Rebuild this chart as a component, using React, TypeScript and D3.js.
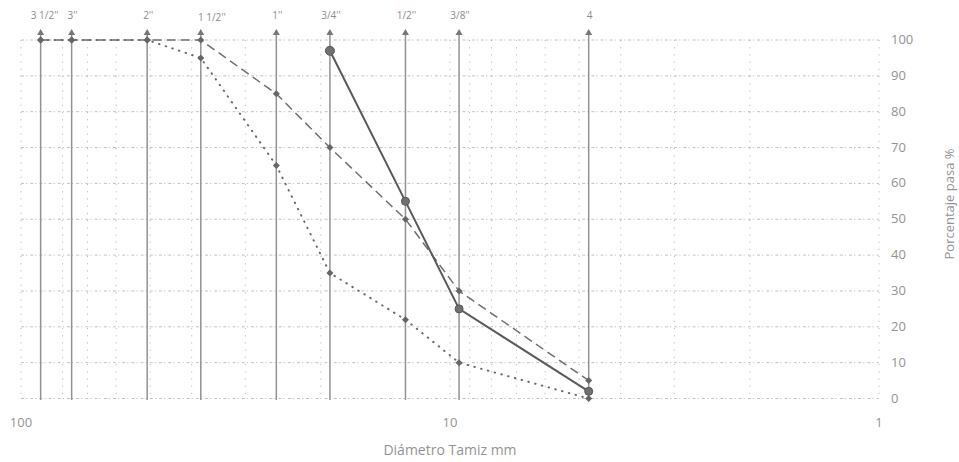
import React from "react";
import * as d3 from "d3";

// Sieve openings (mm) and their labels
const sieveLabels = ["3 1/2''", "3''", "2''", "1 1/2''", "1''", "3/4''", "1/2''", "3/8''", "4"];
const sieveMm = [90, 76.2, 50.8, 38.1, 25.4, 19.05, 12.7, 9.525, 4.75];

// Grading band: upper and lower limits (% passing)
const upperLimit = [100, 100, 100, 100, 85, 70, 50, 30, 5];
const lowerLimit = [100, 100, 100, 95, 65, 35, 22, 10, 0];
// Tested sample (% passing), from 3/4" down
const sample = [null, null, null, null, null, 97, 55, 25, 2];

const yTicks = [0, 10, 20, 30, 40, 50, 60, 70, 80, 90, 100];
const xMajor = [100, 10, 1];

const W = 959;
const H = 462;

export default function App() {
  const x = d3.scaleLog().domain([100, 1]).range([21, 879]);
  const y = d3.scaleLinear().domain([0, 100]).range([398.5, 40]);

  const minorX: number[] = [];
  for (let d = 1; d <= 10; d *= 10) {
    for (let k = 1; k <= 10; k++) minorX.push(k * d);
  }
  const gridX = Array.from(new Set(minorX)).filter((v) => v >= 1 && v <= 100);

  type P = [number, number];
  const pts = (vals: (number | null)[]): P[] =>
    vals
      .map((v, i) => (v == null ? null : ([x(sieveMm[i]), y(v)] as P)))
      .filter((p): p is P => p != null);

  const line = d3.line<P>();

  const upperPts = pts(upperLimit);
  const lowerPts = pts(lowerLimit);
  const samplePts = pts(sample);

  const diamond = (cx: number, cy: number, r: number) =>
    `M${cx},${cy - r}L${cx + r},${cy}L${cx},${cy + r}L${cx - r},${cy}Z`;

  const font = "'Open Sans', 'DejaVu Sans', sans-serif";
  const textCol = "#939393";

  return (
    <div style={{ position: "absolute", left: 0, top: 0 }}>
      <svg width={W} height={H} style={{ display: "block", background: "#fff" }}>
        {/* vertical log grid */}
        {gridX.map((v) => (
          <line
            key={"gx" + v}
            x1={x(v)}
            x2={x(v)}
            y1={y(100)}
            y2={y(0)}
            stroke="#bdbdbd"
            strokeWidth={1}
            strokeDasharray="1.2 6"
          />
        ))}
        {/* horizontal grid */}
        {yTicks.map((t) => (
          <line
            key={"gy" + t}
            x1={x(100)}
            x2={x(1)}
            y1={y(t)}
            y2={y(t)}
            stroke="#c2c2c2"
            strokeWidth={1}
            strokeDasharray="3 2 1.2 3"
          />
        ))}

        {/* sieve reference lines with arrow heads */}
        {sieveMm.map((mm, i) => {
          const sx = x(mm);
          return (
            <g key={"s" + i}>
              <line x1={sx} x2={sx} y1={34} y2={400} stroke="#929292" strokeWidth={1.5} />
              <path d={`M${sx - 3.5},${35}L${sx + 3.5},${35}L${sx},${29}Z`} fill="#777" />
              <text
                x={sx + (i === 3 ? 11 : i === 0 ? 4 : 1)}
                y={i === 3 ? 21 : 19}
                fontSize={10}
                fill="#8c8c8c"
                textAnchor="middle"
                fontFamily={font}
              >
                {sieveLabels[i]}
              </text>
            </g>
          );
        })}

        {/* lower limit (dotted) */}
        <path
          d={line(lowerPts) || ""}
          fill="none"
          stroke="#6a6a6a"
          strokeWidth={2}
          strokeDasharray="0.5 6.5"
          strokeLinecap="round"
        />
        {/* upper limit (dashed) */}
        <path
          d={line(upperPts) || ""}
          fill="none"
          stroke="#707070"
          strokeWidth={1.5}
          strokeDasharray="9 5"
        />
        {/* sample (solid) */}
        <path d={line(samplePts) || ""} fill="none" stroke="#5a5a5a" strokeWidth={2} />

        {lowerPts.map(([px, py], i) => (
          <path key={"ld" + i} d={diamond(px, py, 3.5)} fill="#666" />
        ))}
        {upperPts.map(([px, py], i) => (
          <path key={"ud" + i} d={diamond(px, py, 3.5)} fill="#666" />
        ))}
        {samplePts.map(([px, py], i) => (
          <circle key={"sc" + i} cx={px} cy={py} r={i === 0 ? 4.5 : 4} fill="#707070" stroke="#555" strokeWidth={1} />
        ))}

        {/* right y axis labels */}
        {yTicks.map((t) => (
          <text
            key={"yt" + t}
            x={891}
            y={y(t) + 4}
            fontSize={13}
            fill={textCol}
            fontFamily={font}
          >
            {t}
          </text>
        ))}
        <text
          transform={`translate(954,204) rotate(-90)`}
          textAnchor="middle"
          fontSize={13}
          fill={textCol}
          fontFamily={font}
        >
          Porcentaje pasa %
        </text>

        {/* bottom x axis labels */}
        {xMajor.map((v) => (
          <text
            key={"xm" + v}
            x={x(v)}
            y={427}
            textAnchor="middle"
            fontSize={13}
            fill={textCol}
            fontFamily={font}
          >
            {v}
          </text>
        ))}
        <text x={450} y={455} textAnchor="middle" fontSize={14} fill={textCol} fontFamily={font}>
          Diámetro Tamiz mm
        </text>
      </svg>
    </div>
  );
}
